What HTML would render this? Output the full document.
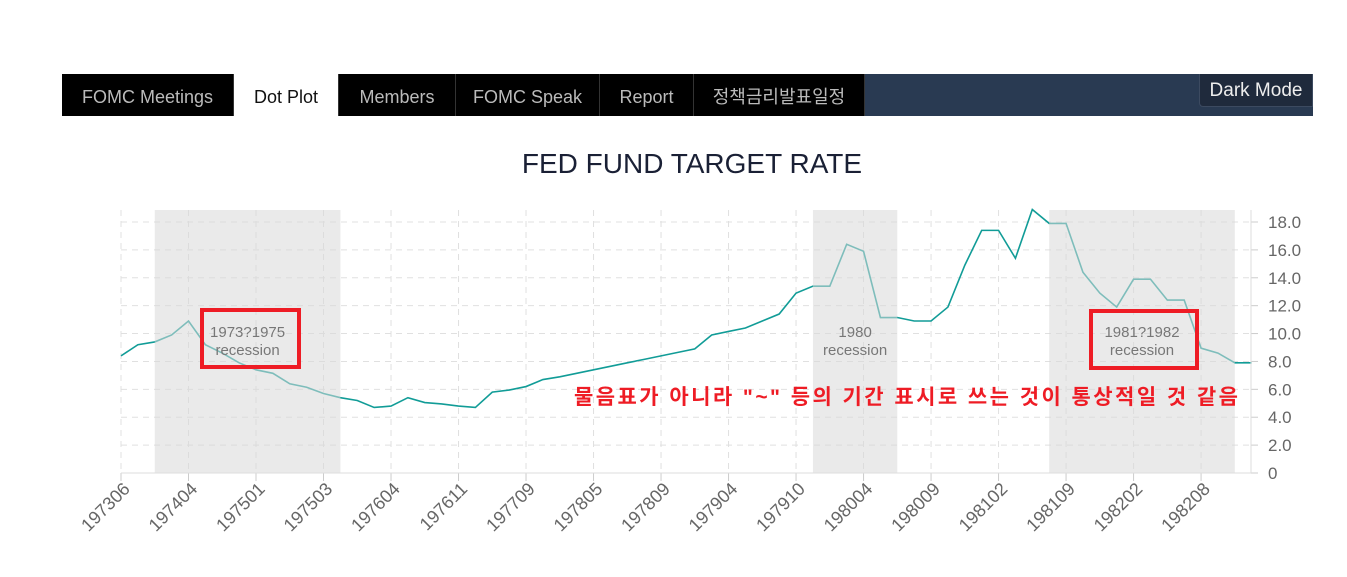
<!DOCTYPE html>
<html><head><meta charset="utf-8"><style>
body{margin:0;width:1347px;height:577px;background:#fff;overflow:hidden;font-family:"Liberation Sans","Noto Sans CJK KR",sans-serif;position:relative}
#nav{position:absolute;left:62px;top:74px;width:1251px;height:42px;background:#293a52}
.tab{position:absolute;top:0;height:42px;background:#000;color:#bbb;font-size:18px;line-height:46px;text-align:center;border-right:1px solid #333;box-sizing:border-box}
.tab.active{background:#fff;color:#111}
#dm{position:absolute;left:1137px;top:0;width:114px;height:33px;background:#1f2a3c;border:1px solid #3c4a60;border-top:none;border-radius:0 0 0 4px;color:#eee;font-size:19px;line-height:33px;text-align:center;box-sizing:border-box}
</style></head><body>
<div id="nav">
<div class="tab" style="left:0;width:172px">FOMC Meetings</div>
<div class="tab active" style="left:172px;width:105px">Dot Plot</div>
<div class="tab" style="left:277px;width:117px">Members</div>
<div class="tab" style="left:394px;width:144px">FOMC Speak</div>
<div class="tab" style="left:538px;width:94px">Report</div>
<div class="tab" style="left:632px;width:171px">정책금리발표일정</div>
<div id="dm">Dark Mode</div>
</div>
<svg id="chart" width="1347" height="577" style="position:absolute;left:0;top:0">
<text x="692" y="173" text-anchor="middle" font-size="28" fill="#1a2035">FED FUND TARGET RATE</text>
<g id="grid"></g><g id="line"></g><g id="bands"></g><g id="axes"></g><g id="ann"></g>
</svg>
<script>
const categories=["197306","","","","197404","","","","197501","","","","197503","","","","197604","","","","197611","","","","197709","","","","197805","","","","197809","","","","197904","","","","197910","","","","198004","","","","198009","","","","198102","","","","198109","","","","198202","","","","198208","","",""];
const rates=[8.4,9.2,9.4,9.9,10.9,9.2,8.6,7.9,7.4,7.15,6.4,6.15,5.7,5.4,5.2,4.7,4.8,5.4,5.05,4.95,4.8,4.7,5.8,5.95,6.2,6.7,6.9,7.15,7.4,7.65,7.9,8.15,8.4,8.65,8.9,9.9,10.15,10.4,10.9,11.4,12.9,13.4,13.4,16.4,15.9,11.15,11.15,10.9,10.9,11.9,14.9,17.4,17.4,15.4,18.9,17.9,17.9,14.4,12.9,11.9,13.9,13.9,12.4,12.4,8.95,8.6,7.9,7.9];
const yTicks=[0,2,4,6,8,10,12,14,16,18];
const recessions=[[2,13,"1973?1975"],[41,46,"1980"],[55,66,"1981?1982"]];
const NS="http://www.w3.org/2000/svg";
const x0=121,dx=(1251.7-121)/67,yb=473,sy=(473-222)/18;
const X=i=>x0+i*dx, Y=v=>yb-v*sy;
function mk(p,t,a){const e=document.createElementNS(NS,t);for(const k in a)e.setAttribute(k,a[k]);p.appendChild(e);return e;}
const grid=document.getElementById('grid'),axes=document.getElementById('axes');
yTicks.forEach(v=>{
 const l=mk(grid,'line',{x1:x0,x2:1251,y1:Y(v),y2:Y(v),stroke:'#e0e0e0','stroke-dasharray':'6,5'});
 
 const tk=mk(axes,'line',{x1:1251,x2:1258,y1:Y(v),y2:Y(v),stroke:'#ccc'});
 
 const t=mk(axes,'text',{x:1268,y:Y(v)+6,'font-size':17,fill:'#666'});t.textContent=v===0?'0':v.toFixed(1);
 
});
categories.forEach((c,i)=>{if(!c)return;
 const l=mk(grid,'line',{x1:X(i),x2:X(i),y1:210,y2:473,stroke:'#e0e0e0','stroke-dasharray':'6,5'});
 
 const tk=mk(axes,'line',{x1:X(i),x2:X(i),y1:473,y2:481,stroke:'#ccc'});
 
 const t=mk(axes,'text',{x:X(i)+10,y:490,'font-size':18,fill:'#666','text-anchor':'end',transform:`rotate(-45 ${X(i)+10} 490)`});t.textContent=c;
 
});
const ax=mk(axes,'line',{x1:1251,x2:1251,y1:210,y2:473,stroke:'#ddd'});

const bx=mk(axes,'line',{x1:x0,x2:1251,y1:473,y2:473,stroke:'#ddd'});

const pl=mk(document.getElementById('line'),'polyline',{points:rates.map((v,i)=>X(i)+','+Y(v)).join(' '),fill:'none',stroke:'#119c97','stroke-width':1.6});

const bands=document.getElementById('bands');
recessions.forEach(r=>{
 const b=mk(bands,'rect',{x:X(r[0]),y:210,width:X(r[1])-X(r[0]),height:263,fill:'#d8d8d8','fill-opacity':0.55});
 
 const cx=(X(r[0])+X(r[1]))/2;
 const t1=mk(bands,'text',{x:cx,y:337,'font-size':15,fill:'#777','text-anchor':'middle'});t1.textContent=r[2];
 
 const t2=mk(bands,'text',{x:cx,y:355,'font-size':15,fill:'#777','text-anchor':'middle'});t2.textContent='recession';
 
});
const ann=document.getElementById('ann');
[[202,310,97,57],[1091,311,106,57]].forEach(a=>{
 const r=mk(ann,'rect',{x:a[0],y:a[1],width:a[2],height:a[3],fill:'none',stroke:'#ee1c25','stroke-width':4});
 
});
const note=mk(ann,'text',{x:574,y:404,'font-size':21,'font-weight':'bold',fill:'#ee1c25',textLength:664,lengthAdjust:'spacing'});
note.textContent='물음표가 아니라 "~" 등의 기간 표시로 쓰는 것이 통상적일 것 같음';

</script>
</body></html>
